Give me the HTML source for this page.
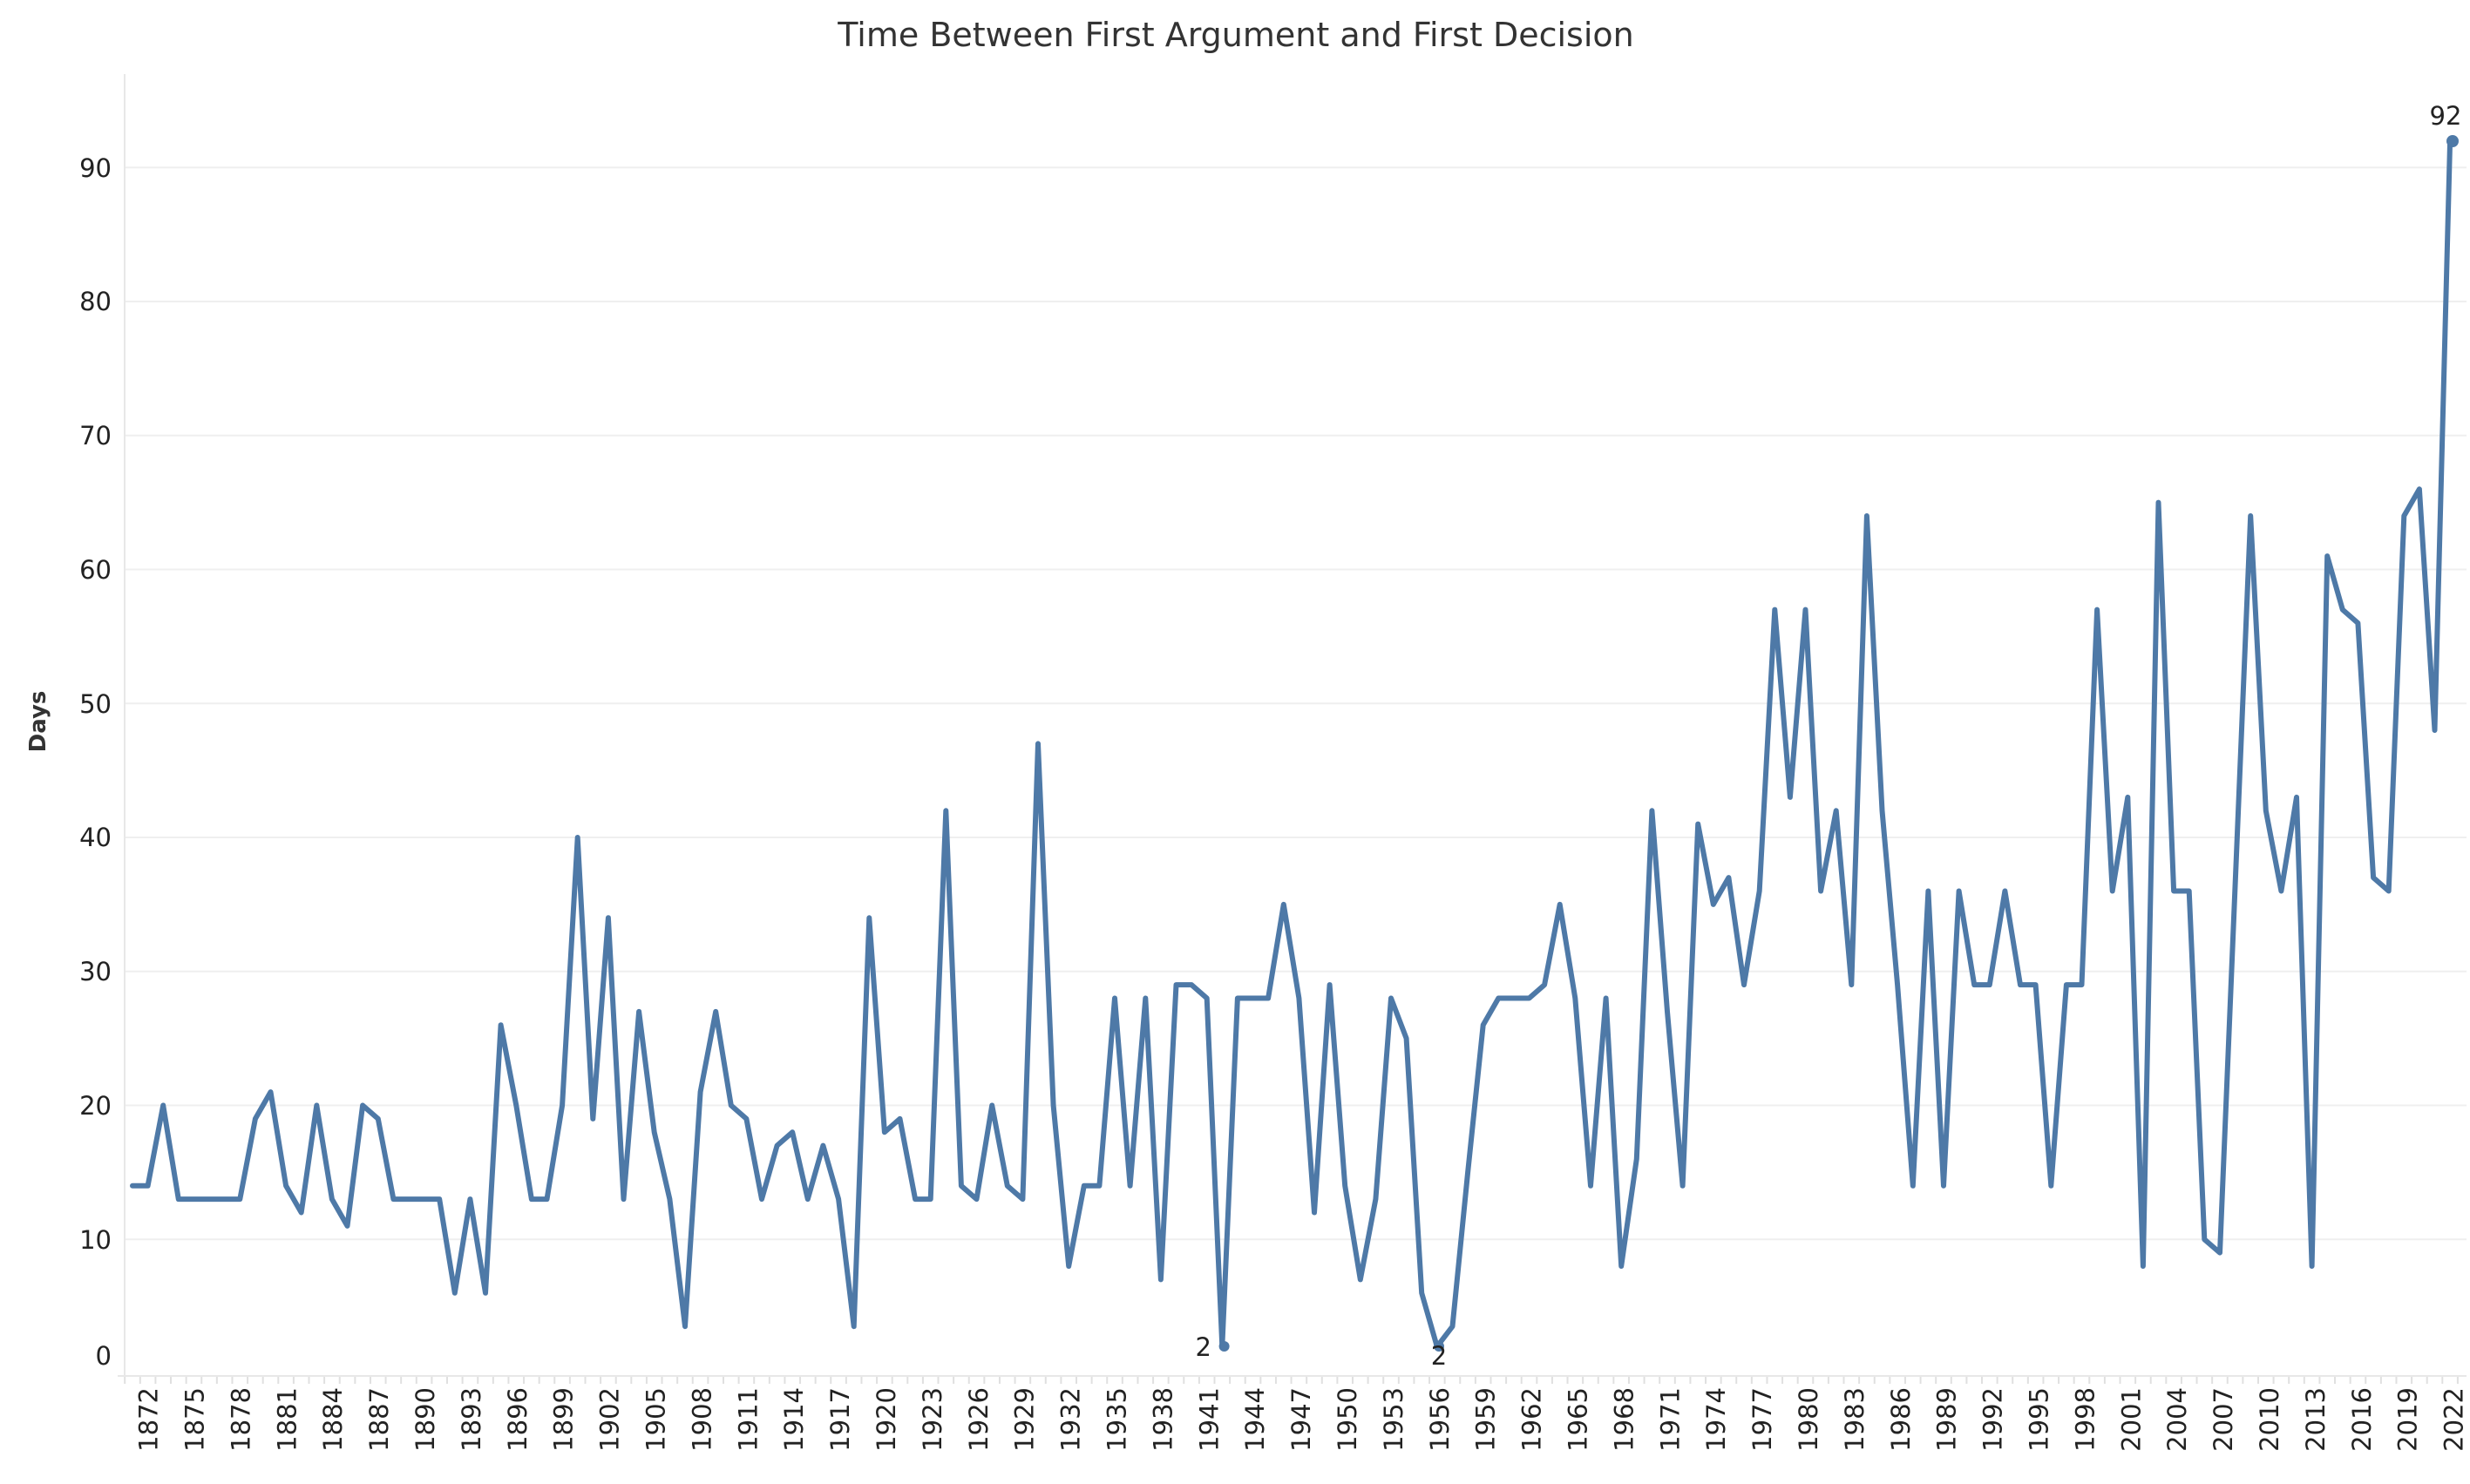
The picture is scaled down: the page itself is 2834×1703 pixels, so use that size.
<!DOCTYPE html>
<html><head><meta charset="utf-8"><style>
html,body{margin:0;padding:0;background:#fff;}
svg{display:block;font-family:"DejaVu Sans","Liberation Sans",sans-serif;}
</style></head><body>
<svg id="s" width="2834" height="1703" viewBox="0 0 2834 1703" xmlns="http://www.w3.org/2000/svg">
<text x="1418" y="53" text-anchor="middle" font-size="38" fill="#333">Time Between First Argument and First Decision</text>
<g id="grid" stroke="#efefef" stroke-width="2"></g>
<line x1="143" y1="85" x2="143" y2="1580" stroke="#e8e8e8" stroke-width="2"/>
<line x1="135" y1="1579" x2="2830" y2="1579" stroke="#e8e8e8" stroke-width="2"/>
<g id="ticks" stroke="#e0e0e0" stroke-width="2"></g>
<text transform="translate(52,828) rotate(-90)" text-anchor="middle" font-size="26" font-weight="bold" fill="#333">Days</text>
<g font-size="29" fill="#222" text-anchor="end">
<text x="128" y="1566">0</text>
<text x="128" y="1433">10</text>
<text x="128" y="1279">20</text>
<text x="128" y="1125">30</text>
<text x="128" y="971">40</text>
<text x="128" y="818">50</text>
<text x="128" y="664">60</text>
<text x="128" y="510">70</text>
<text x="128" y="356">80</text>
<text x="128" y="203">90</text>
</g>
<g font-size="29" fill="#222" text-anchor="end">
<text transform="translate(180.6,1592) rotate(-90)">1872</text>
<text transform="translate(233.5,1592) rotate(-90)">1875</text>
<text transform="translate(286.4,1592) rotate(-90)">1878</text>
<text transform="translate(339.3,1592) rotate(-90)">1881</text>
<text transform="translate(392.2,1592) rotate(-90)">1884</text>
<text transform="translate(445.1,1592) rotate(-90)">1887</text>
<text transform="translate(498,1592) rotate(-90)">1890</text>
<text transform="translate(550.9,1592) rotate(-90)">1893</text>
<text transform="translate(603.8,1592) rotate(-90)">1896</text>
<text transform="translate(656.7,1592) rotate(-90)">1899</text>
<text transform="translate(709.6,1592) rotate(-90)">1902</text>
<text transform="translate(762.5,1592) rotate(-90)">1905</text>
<text transform="translate(815.4,1592) rotate(-90)">1908</text>
<text transform="translate(868.3,1592) rotate(-90)">1911</text>
<text transform="translate(921.2,1592) rotate(-90)">1914</text>
<text transform="translate(974.1,1592) rotate(-90)">1917</text>
<text transform="translate(1027,1592) rotate(-90)">1920</text>
<text transform="translate(1079.9,1592) rotate(-90)">1923</text>
<text transform="translate(1132.8,1592) rotate(-90)">1926</text>
<text transform="translate(1185.7,1592) rotate(-90)">1929</text>
<text transform="translate(1238.6,1592) rotate(-90)">1932</text>
<text transform="translate(1291.5,1592) rotate(-90)">1935</text>
<text transform="translate(1344.4,1592) rotate(-90)">1938</text>
<text transform="translate(1397.3,1592) rotate(-90)">1941</text>
<text transform="translate(1450.2,1592) rotate(-90)">1944</text>
<text transform="translate(1503.1,1592) rotate(-90)">1947</text>
<text transform="translate(1556,1592) rotate(-90)">1950</text>
<text transform="translate(1608.9,1592) rotate(-90)">1953</text>
<text transform="translate(1661.8,1592) rotate(-90)">1956</text>
<text transform="translate(1714.7,1592) rotate(-90)">1959</text>
<text transform="translate(1767.6,1592) rotate(-90)">1962</text>
<text transform="translate(1820.5,1592) rotate(-90)">1965</text>
<text transform="translate(1873.4,1592) rotate(-90)">1968</text>
<text transform="translate(1926.3,1592) rotate(-90)">1971</text>
<text transform="translate(1979.2,1592) rotate(-90)">1974</text>
<text transform="translate(2032.1,1592) rotate(-90)">1977</text>
<text transform="translate(2085,1592) rotate(-90)">1980</text>
<text transform="translate(2137.9,1592) rotate(-90)">1983</text>
<text transform="translate(2190.8,1592) rotate(-90)">1986</text>
<text transform="translate(2243.7,1592) rotate(-90)">1989</text>
<text transform="translate(2296.6,1592) rotate(-90)">1992</text>
<text transform="translate(2349.5,1592) rotate(-90)">1995</text>
<text transform="translate(2402.4,1592) rotate(-90)">1998</text>
<text transform="translate(2455.3,1592) rotate(-90)">2001</text>
<text transform="translate(2508.2,1592) rotate(-90)">2004</text>
<text transform="translate(2561.1,1592) rotate(-90)">2007</text>
<text transform="translate(2614,1592) rotate(-90)">2010</text>
<text transform="translate(2666.9,1592) rotate(-90)">2013</text>
<text transform="translate(2719.8,1592) rotate(-90)">2016</text>
<text transform="translate(2772.7,1592) rotate(-90)">2019</text>
<text transform="translate(2825.6,1592) rotate(-90)">2022</text>
</g>
<polyline id="ln" fill="none" stroke="#4e79a7" stroke-width="6" stroke-linejoin="round" stroke-linecap="round" points=""/>
<circle cx="1404.6" cy="1545" r="6" fill="#4e79a7"/>
<circle cx="1651" cy="1545" r="6" fill="#4e79a7"/>
<circle cx="2814" cy="162" r="7" fill="#4e79a7"/>
<g font-size="29" fill="#222">
<text x="1390" y="1556" text-anchor="end">2</text>
<text x="1651" y="1566" text-anchor="middle">2</text>
<text x="2806" y="143" text-anchor="middle">92</text>
</g>
</svg>
<script>
var d=[14,14,20,13,13,13,13,13,19,21,14,12,20,13,11,20,19,13,13,13,13,6,13,6,26,20,13,13,20,40,19,34,13,27,18,13,3.5,21,27,20,19,13,17,18,13,17,13,3.5,34,18,19,13,13,42,14,13,20,14,13,47,20,8,14,14,28,14,28,7,29,29,28,2,28,28,28,35,28,12,29,14,7,13,28,25,6,2,3.5,15,26,28,28,28,29,35,28,14,28,8,16,42,27,14,41,35,37,29,36,57,43,57,36,42,29,64,42,29,14,36,14,36,29,29,36,29,29,14,29,29,57,36,43,8,65,36,36,10,9,36.5,64,42,36,43,8,61,57,56,37,36,64,66,48,92];
var pts=[];for(var i=0;i<d.length;i++){pts.push((152+i*17.61).toFixed(1)+","+(1576-15.375*d[i]).toFixed(1));}
document.getElementById("ln").setAttribute("points",pts.join(" "));
var g=document.getElementById("grid"),ns="http://www.w3.org/2000/svg";
for(var v=10;v<=90;v+=10){var l=document.createElementNS(ns,"line");var y=1576-15.375*v;l.setAttribute("x1",143);l.setAttribute("x2",2830);l.setAttribute("y1",y);l.setAttribute("y2",y);g.appendChild(l);}
var t=document.getElementById("ticks");
for(var i=0;i<=152;i++){var x=152+(i-0.5)*17.61;var l=document.createElementNS(ns,"line");l.setAttribute("x1",x);l.setAttribute("x2",x);l.setAttribute("y1",1580);l.setAttribute("y2",1588);t.appendChild(l);}
</script>
</body></html>
